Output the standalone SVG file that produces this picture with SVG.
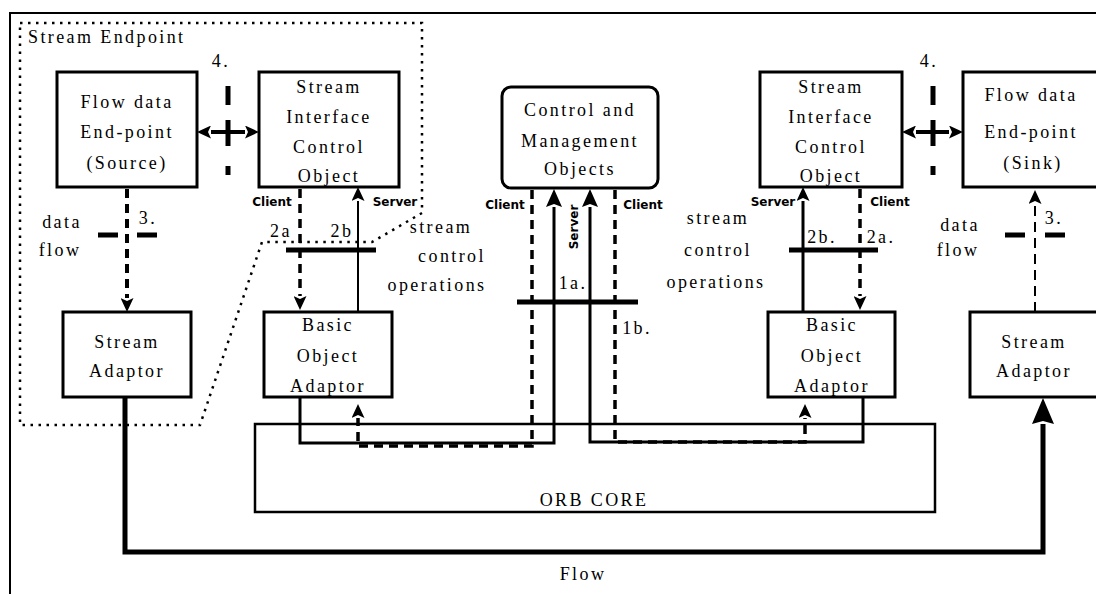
<svg xmlns="http://www.w3.org/2000/svg" width="1096" height="594" viewBox="0 0 1096 594">
<style>
.box{fill:#fff;stroke:#000;stroke-width:3}
.t{font-size:18px;letter-spacing:2.4px;text-anchor:middle;fill:#000}
.lb{font-weight:bold;font-size:12px;text-anchor:middle;fill:#000}
.ln{fill:none;stroke:#000}
.dash{stroke-dasharray:9 6}
.bar{fill:none;stroke:#000;stroke-width:5}
</style>
<defs>
<marker id="ah" viewBox="0 0 14 13" refX="0" refY="6.5" markerWidth="14" markerHeight="13" orient="auto-start-reverse" markerUnits="userSpaceOnUse"><path d="M0,0 L14,6.5 L0,13 L3,6.5 Z"/></marker>
<marker id="ahm" viewBox="0 0 18 16" refX="0" refY="8" markerWidth="18" markerHeight="16" orient="auto" markerUnits="userSpaceOnUse"><path d="M0,0 L18,8 L0,16 L3,8 Z"/></marker>
<marker id="ahb" viewBox="0 0 26 22" refX="0" refY="11" markerWidth="26" markerHeight="22" orient="auto" markerUnits="userSpaceOnUse"><path d="M0,0 L26,11 L0,22 L3,11 Z"/></marker>
</defs>
<rect width="1096" height="594" fill="#fff"/>
<path class="ln" stroke-width="2" d="M10,600 V13 H1100"/>
<g font-family="Liberation Serif, Times New Roman, serif">
<g id="stream-endpoint">
<path class="ln" stroke-width="2.5" stroke-dasharray="2.5 5.5" d="M20,23 H422 V213 L372,242 H262 L200,425 H20 Z"/>
<text class="t" x="28" y="43" text-anchor="start" style="text-anchor:start">Stream Endpoint</text>
</g>
<g id="orb-core">
<rect x="255" y="424" width="680" height="88" fill="#fff" stroke="#000" stroke-width="2.5"/>
<text class="t" x="594" y="506">ORB CORE</text>
</g>
<g id="source">
<rect class="box" x="57" y="72" width="140" height="115"/>
<text class="t" x="127" y="108">Flow data</text>
<text class="t" x="127" y="138">End-point</text>
<text class="t" x="127" y="169">(Source)</text>
</g>
<g id="sico-left">
<rect class="box" x="259" y="72" width="140" height="115"/>
<text class="t" x="329" y="93">Stream</text>
<text class="t" x="329" y="123">Interface</text>
<text class="t" x="329" y="153">Control</text>
<text class="t" x="329" y="182">Object</text>
</g>
<g id="cm">
<rect class="box" x="502" y="87" width="156" height="101" rx="9"/>
<text class="t" x="580" y="116">Control and</text>
<text class="t" x="580" y="147">Management</text>
<text class="t" x="580" y="175">Objects</text>
</g>
<g id="sico-right">
<rect class="box" x="760" y="72" width="142" height="115"/>
<text class="t" x="831" y="93">Stream</text>
<text class="t" x="831" y="123">Interface</text>
<text class="t" x="831" y="153">Control</text>
<text class="t" x="831" y="182">Object</text>
</g>
<g id="sink">
<rect class="box" x="963" y="72" width="150" height="115"/>
<text class="t" x="1031" y="101">Flow data</text>
<text class="t" x="1031" y="138">End-point</text>
<text class="t" x="1033" y="169">(Sink)</text>
</g>
<g id="sa-left">
<rect class="box" x="63" y="312" width="128" height="85"/>
<text class="t" x="127" y="348">Stream</text>
<text class="t" x="127" y="377">Adaptor</text>
</g>
<g id="boa-left">
<rect class="box" x="264" y="312" width="128" height="85"/>
<text class="t" x="328" y="331">Basic</text>
<text class="t" x="328" y="362">Object</text>
<text class="t" x="328" y="392">Adaptor</text>
</g>
<g id="boa-right">
<rect class="box" x="768" y="312" width="127" height="85"/>
<text class="t" x="832" y="331">Basic</text>
<text class="t" x="832" y="362">Object</text>
<text class="t" x="832" y="392">Adaptor</text>
</g>
<g id="sa-right">
<rect class="box" x="970" y="312" width="150" height="85"/>
<text class="t" x="1034" y="348">Stream</text>
<text class="t" x="1034" y="377">Adaptor</text>
</g>
</g>
<g id="connectors">
<path class="ln dash" stroke-width="4" d="M127,189 V298" marker-end="url(#ah)"/>
<path class="bar" d="M98,235 H118 M137,235 H157"/>
<path class="ln" stroke-width="4" d="M211,132 H245" marker-start="url(#ah)" marker-end="url(#ah)"/>
<path class="bar" d="M228,86 V105 M228,120 V146 M228,166 V175"/>
<path class="ln dash" stroke-width="3.5" d="M300,189 V296" marker-end="url(#ah)"/>
<path class="ln" stroke-width="2" d="M358,312 V201" marker-end="url(#ah)"/>
<path class="bar" stroke-width="4" d="M286,250 H376"/>
<path class="ln" stroke-width="3" d="M300,397 V443 H554 V207" marker-end="url(#ahm)"/>
<path class="ln dash" stroke-width="3.5" d="M532,190 V446 H358 V418" marker-end="url(#ah)"/>
<path class="ln" stroke-width="3" d="M863,397 V442 H590 V207" marker-end="url(#ahm)"/>
<path class="ln dash" stroke-width="3.5" d="M615,190 V442 H805 V418" marker-end="url(#ah)"/>
<path class="bar" d="M517,302 H638"/>
<path class="ln" stroke-width="3" d="M803,312 V201" marker-end="url(#ah)"/>
<path class="ln dash" stroke-width="3.5" d="M860,189 V296" marker-end="url(#ah)"/>
<path class="bar" stroke-width="4" d="M789,250 H878"/>
<path class="ln" stroke-width="4" d="M916,132 H949" marker-start="url(#ah)" marker-end="url(#ah)"/>
<path class="bar" d="M933,86 V105 M933,120 V146 M933,166 V175"/>
<path class="ln" stroke-width="2" stroke-dasharray="10 6" d="M1035,312 V204" marker-end="url(#ah)"/>
<path class="bar" d="M1005,235 H1025 M1045,235 H1065"/>
<path class="ln" stroke-width="5" d="M125,397 V552 H1043 V424" marker-end="url(#ahb)"/>
</g>
<g id="labels" font-family="Liberation Serif, Times New Roman, serif">
<text class="t" x="148" y="224">3.</text>
<text class="t" x="221" y="67">4.</text>
<text class="t" x="62" y="228">data</text>
<text class="t" x="60" y="256">flow</text>
<text class="t" x="281" y="237">2a</text>
<text class="t" x="342" y="237">2b</text>
<text class="t" x="441" y="233">stream</text>
<text class="t" x="452" y="262">control</text>
<text class="t" x="437" y="291">operations</text>
<text class="t" x="573" y="289">1a.</text>
<text class="t" x="637" y="334">1b.</text>
<text class="t" x="718" y="224">stream</text>
<text class="t" x="718" y="256">control</text>
<text class="t" x="716" y="288">operations</text>
<text class="t" x="822" y="243">2b.</text>
<text class="t" x="881" y="243">2a.</text>
<text class="t" x="929" y="67">4.</text>
<text class="t" x="1054" y="224">3.</text>
<text class="t" x="960" y="231">data</text>
<text class="t" x="958" y="256">flow</text>
<text class="t" x="583" y="580">Flow</text>
<g font-family="DejaVu Sans, sans-serif">
<text class="lb" x="272" y="206">Client</text>
<text class="lb" x="395" y="206">Server</text>
<text class="lb" x="505" y="209">Client</text>
<text class="lb" x="643" y="209">Client</text>
<text class="lb" transform="translate(578,227) rotate(-90)">Server</text>
<text class="lb" x="773" y="206">Server</text>
<text class="lb" x="890" y="206">Client</text>
</g>
</g>
</svg>
